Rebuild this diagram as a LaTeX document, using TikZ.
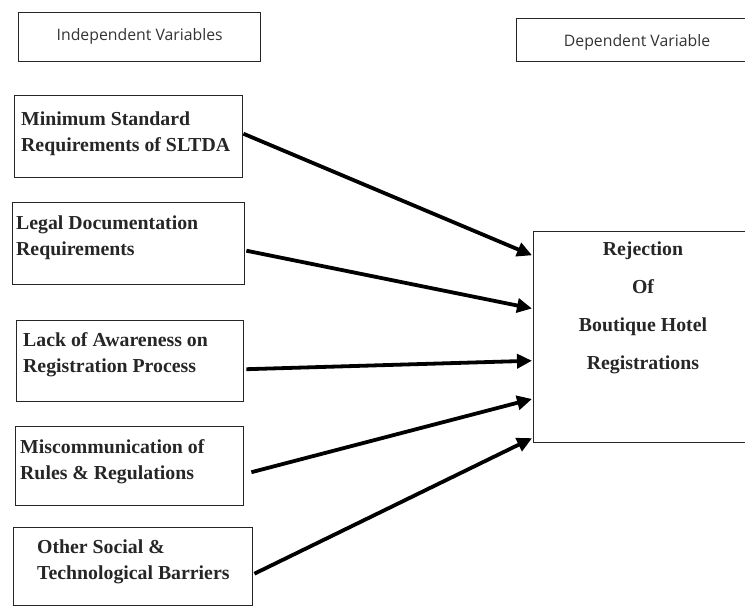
\documentclass[tikz,border=0pt]{standalone}
\usepackage{fontspec}
\setmainfont{Liberation Serif}
\newfontfamily\headfont{Open Sans}
\usetikzlibrary{calc,arrows.meta}
\begin{document}
\begin{tikzpicture}[x=1pt,y=-1pt,
  frame/.style={draw=black!85,line width=1.4pt,inner sep=0pt,anchor=north west},
  headtext/.style={font=\headfont\fontsize{15.8}{18}\selectfont,text=black!80},
  vartext/.style={font=\bfseries\fontsize{19.8}{26}\selectfont,align=left,anchor=north west,inner sep=0pt,text=black!85},
  link/.style={line width=3.8pt,-{Triangle[length=15pt,width=14pt]},shorten >=1pt}]
\useasboundingbox (0,0) rectangle (745,606);

% column headings
\node[frame,minimum width=242pt,minimum height=49pt] (ind) at (18,12) {};
\node[headtext] at ($(ind.center)+(0,-1)$) {Independent Variables};
\node[frame,minimum width=260pt,minimum height=43pt] (dep) at (516,18) {};
\node[headtext] at (637,42) {Dependent Variable};

% independent variable boxes
\node[frame,minimum width=228pt,minimum height=82pt] (v1) at (14,95) {};
\node[vartext] at (21,112) {Minimum Standard\\Requirements of SLTDA};

\node[frame,minimum width=232pt,minimum height=82pt] (v2) at (12,202) {};
\node[vartext] at (16,216) {Legal Documentation\\Requirements};

\node[frame,minimum width=227pt,minimum height=81pt] (v3) at (16,320) {};
\node[vartext] at (23,332) {Lack of Awareness on\\Registration Process};

\node[frame,minimum width=228pt,minimum height=79pt] (v4) at (15,426) {};
\node[vartext] at (20,439) {Miscommunication of\\Rules \& Regulations};

\node[frame,minimum width=239pt,minimum height=78pt] (v5) at (13,527) {};
\node[vartext] at (37,540) {Other Social \&\\Technological Barriers};

% dependent variable box
\node[frame,minimum width=230pt,minimum height=211pt] (res) at (533,231) {};
\node[font=\bfseries\fontsize{19.8}{38}\selectfont,align=center,anchor=north,inner sep=0pt,text=black!85]
  (restext) at (643,242) {Rejection\\Of\\Boutique Hotel\\Registrations};

% influences
\draw[link] ($(v1.east)+(0,-3)$) -- ($(res.west)+(0,-81.5)$);
\draw[link] ($(v2.east)+(1,7)$) -- ($(res.west)+(0,-28.5)$);
\draw[link] ($(v3.east)+(2,8)$) -- ($(res.west)+(0,23.5)$);
\draw[link] ($(v4.east)+(7,6)$) -- ($(res.west)+(0,61.5)$);
\draw[link] ($(v5.east)+(1,7)$) -- ($(res.west)+(0,100.5)$);
\end{tikzpicture}
\end{document}
